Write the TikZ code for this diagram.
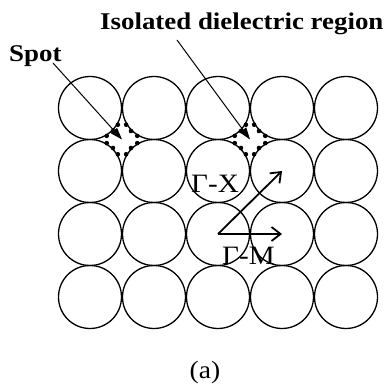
\documentclass[tikz,border=0pt]{standalone}
\usepackage{fontspec}
\setmainfont{Liberation Serif}
\usetikzlibrary{arrows.meta,calc}
\begin{document}
\begin{tikzpicture}[x=1pt,y=-1pt,
  cell/.style={circle,draw,line width=1.3pt,minimum size=63pt,inner sep=0pt},
  lbl/.style={inner sep=0pt,anchor=base west},
  boldlbl/.style={lbl,font=\bfseries\fontsize{24}{28}\selectfont},
  klbl/.style={lbl,font=\fontsize{26.5}{31}\selectfont},
  pointer/.style={line width=1pt,-{Triangle[length=12pt,width=8pt]}},
  kvec/.style={line width=1.8pt,-{Straight Barb[length=9pt,width=14pt]}}]
\useasboundingbox (0,0) rectangle (391,387);
\foreach \i in {1,...,5}{
  \foreach \j in {1,...,4}{
    \node[cell] (c\i\j) at ({90+64*(\i-1)},{108+63*(\j-1)}) {};
  }
}
\coordinate (g1) at ($(c11.center)!0.5!(c22.center)$);
\coordinate (g2) at ($(c31.center)!0.5!(c42.center)$);
% dots around the isolated dielectric regions
\foreach \cc/\aa in {c11/45, c21/135, c22/225, c12/315, c31/45, c41/135, c42/225, c32/315}{
  \foreach \oo in {-14,0,14}{
    \fill ($(\cc.center)+({\aa+\oo}:32.5)$) circle (2.3);
  }
}
\node[boldlbl] (spot) at (9,61.7) {\scalebox{1.12}[1]{Spot}};
\node[boldlbl] (iso) at (100,29.3) {\scalebox{1.12}[1]{Isolated dielectric region}};
\coordinate (spotstart) at (53,63);
\coordinate (isostart) at (177,40);
\draw[pointer] (spotstart) -- (g1);
\draw[pointer] (isostart) -- (g2);
\draw[kvec] (c33.center) -- (c42.center);
\draw[kvec] (c33.center) -- (c43.center);
\node[klbl] (gx) at (191,192.7) {\scalebox{1.1}[1]{Γ-X}};
\node[klbl] (gm) at (222,264.3) {\scalebox{1.1}[1]{Γ-M}};
\node[inner sep=0pt,font=\fontsize{25}{30}\selectfont] (cap) at (205,372) {\scalebox{1.1}[1]{(a)}};
\end{tikzpicture}
\end{document}
